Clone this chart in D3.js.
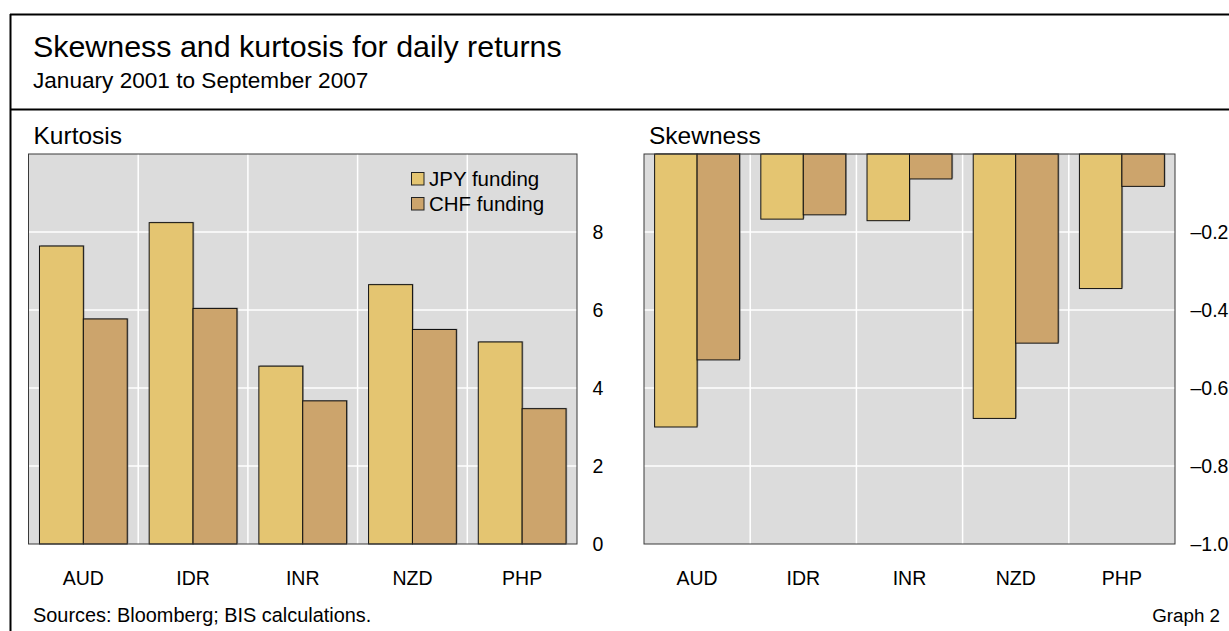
<!DOCTYPE html>
<html>
<head>
<meta charset="utf-8">
<script src="https://cdn.jsdelivr.net/npm/d3@7"></script>
<style>
    body { margin: 0; background: #FFFFFF; }
    svg { display: block; font-family: "Liberation Sans", Arial, sans-serif; }
</style>
</head>
<body>
<div id="chart"></div>
<script>
const currencies = ['AUD', 'IDR', 'INR', 'NZD', 'PHP'];
const series = ['JPY funding', 'CHF funding'];
const kurtosis_jpy = [7.64, 8.24, 4.56, 6.65, 5.18];
const kurtosis_chf = [5.77, 6.04, 3.67, 5.50, 3.47];
const skewness_jpy = [-0.70, -0.167, -0.171, -0.678, -0.345];
const skewness_chf = [-0.528, -0.156, -0.064, -0.485, -0.083];
const kurtosis_ticks = [0, 2, 4, 6, 8];
const skewness_ticks = [-1.0, -0.8, -0.6, -0.4, -0.2];
let colors = ['#E4C571', '#CCA46C'];

const width = 1229, height = 631;

let svg = d3.select('#chart').append('svg')
    .attr('width', width)
    .attr('height', height);

// frame + header
svg.append('line').attr('x1', 10.5).attr('x2', 10.5).attr('y1', 14).attr('y2', height)
    .attr('stroke', '#000').attr('stroke-width', 2);
svg.append('line').attr('x1', 10).attr('x2', width).attr('y1', 14.5).attr('y2', 14.5)
    .attr('stroke', '#000').attr('stroke-width', 2);
svg.append('line').attr('x1', 10).attr('x2', width).attr('y1', 109.5).attr('y2', 109.5)
    .attr('stroke', '#000').attr('stroke-width', 2);

svg.append('text').text('Skewness and kurtosis for daily returns')
    .attr('x', 33).attr('y', 57).attr('font-size', 30.4);
svg.append('text').text('January 2001 to September 2007')
    .attr('x', 33).attr('y', 88).attr('font-size', 22.6);
svg.append('text').text('Sources: Bloomberg; BIS calculations.')
    .attr('x', 33).attr('y', 622).attr('font-size', 19.9);
svg.append('text').text('Graph 2')
    .attr('x', 1220).attr('y', 622).attr('font-size', 18.8).attr('text-anchor', 'end');

function fmt_tick(d) {
    if (d === 0) return '0';
    let s = d > 0 ? d3.format('d')(d) : d3.format('.1f')(d);
    return s.replace('-', '\u2013').replace('\u2212', '\u2013');
}

function draw_panel(opts) {
    let g = svg.append('g');
    let x0 = d3.scaleBand().domain(currencies).range([opts.left, opts.right]);
    let x1 = d3.scaleBand().domain(series).range([0, x0.bandwidth()]).paddingOuter(0.25);
    let y = d3.scaleLinear().domain(opts.domain).range([opts.bottom, opts.top]);

    g.append('text').text(opts.title)
        .attr('x', opts.left + 5).attr('y', 144).attr('font-size', 24.5);

    g.append('rect')
        .attr('x', opts.left).attr('y', opts.top)
        .attr('width', opts.right - opts.left).attr('height', opts.bottom - opts.top)
        .attr('fill', '#DCDCDC');

    // grid
    g.selectAll('.hgrid')
        .data(opts.grid)
        .enter().append('line')
        .attr('x1', opts.left).attr('x2', opts.right)
        .attr('y1', d => y(d)).attr('y2', d => y(d))
        .attr('stroke', '#FFFFFF').attr('stroke-width', 1.5);
    g.selectAll('.vgrid')
        .data(currencies.slice(1))
        .enter().append('line')
        .attr('x1', d => x0(d)).attr('x2', d => x0(d))
        .attr('y1', opts.top).attr('y2', opts.bottom)
        .attr('stroke', '#FFFFFF').attr('stroke-width', 1.5);

    let rows = currencies.map((c, i) => ({
        cat: c,
        vals: [opts.a[i], opts.b[i]]
    }));

    let groups = g.selectAll('.grp')
        .data(rows)
        .enter().append('g')
        .attr('transform', d => `translate(${x0(d.cat)},0)`);

    let bars = groups.selectAll('.bar')
        .data(d => d.vals.map((v, k) => ({ s: series[k], v: v, k: k })))
        .enter();

    // soft shadow
    bars.append('rect')
        .attr('x', d => x1(d.s) + 1.2)
        .attr('y', d => Math.min(y(d.v), y(0)) - 0.8)
        .attr('width', x1.bandwidth())
        .attr('height', d => Math.abs(y(d.v) - y(0)))
        .attr('fill', '#6E6E6E').attr('opacity', 0.6);
    bars.append('rect')
        .attr('x', d => x1(d.s))
        .attr('y', d => Math.min(y(d.v), y(0)))
        .attr('width', x1.bandwidth())
        .attr('height', d => Math.abs(y(d.v) - y(0)))
        .attr('fill', d => colors[d.k])
        .attr('stroke', '#111').attr('stroke-width', 1);

    g.append('rect')
        .attr('x', opts.left).attr('y', opts.top)
        .attr('width', opts.right - opts.left).attr('height', opts.bottom - opts.top)
        .attr('fill', 'none').attr('stroke', '#3A3A3A').attr('stroke-width', 1);

    // y axis on the right
    let axis = d3.axisRight(y).tickValues(opts.ticks).tickSize(0).tickPadding(0).tickFormat(fmt_tick);
    let ag = g.append('g')
        .attr('transform', `translate(${opts.right + 15.5},0)`)
        .call(axis);
    ag.select('.domain').remove();
    ag.selectAll('text')
        .attr('font-size', 19.5).attr('font-family', '"Liberation Sans", Arial, sans-serif')
        .attr('fill', '#000').attr('dy', '0.35em');

    // categories
    let xa = d3.axisBottom(x0).tickSize(0).tickPadding(0);
    let xg = g.append('g')
        .attr('transform', `translate(0,${opts.bottom + 41})`)
        .call(xa);
    xg.select('.domain').remove();
    xg.selectAll('text')
        .attr('font-size', 19.5).attr('font-family', '"Liberation Sans", Arial, sans-serif')
        .attr('fill', '#000').attr('dy', 0);

    return { x0: x0, y: y };
}

draw_panel({
    title: 'Kurtosis', left: 28.5, right: 577, top: 154, bottom: 544,
    domain: [0, 10], grid: [2, 4, 6, 8], ticks: kurtosis_ticks,
    a: kurtosis_jpy, b: kurtosis_chf
});
draw_panel({
    title: 'Skewness', left: 644, right: 1175, top: 154, bottom: 544,
    domain: [-1, 0], grid: [-0.8, -0.6, -0.4, -0.2], ticks: skewness_ticks,
    a: skewness_jpy, b: skewness_chf
});

// legend
let legend = svg.append('g').attr('transform', 'translate(411,172)');
legend.selectAll('.lg')
    .data(series)
    .enter().append('g')
    .attr('transform', (d, i) => `translate(0,${i * 25})`)
    .each(function (d, i) {
        let item = d3.select(this);
        item.append('rect')
            .attr('x', 0.5).attr('y', 0.5).attr('width', 12.5).attr('height', 12.5)
            .attr('fill', colors[i]).attr('stroke', '#222').attr('stroke-width', 1);
        item.append('text').text(d)
            .attr('x', 18).attr('y', 13.5).attr('font-size', 20.5);
    });
</script>
</body>
</html>
